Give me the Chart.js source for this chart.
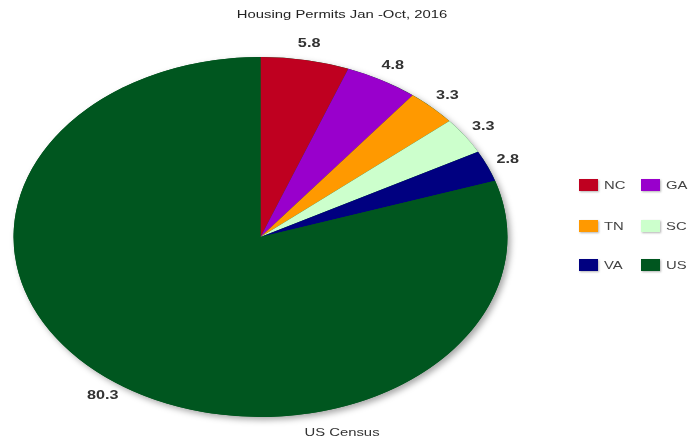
<!DOCTYPE html>
<html>
<head>
<meta charset="utf-8">
<script src="https://cdn.jsdelivr.net/npm/chart.js@4/dist/chart.umd.min.js"></script>
<style>
  body { margin: 0; background: #fff; }
  #wrap { width: 699px; height: 441px; position: relative; }
</style>
</head>
<body>
<div id="wrap"><canvas id="permits_canvas"></canvas></div>
<script>
// housing permits share, Jan - Oct 2016
var states = ["NC", "GA", "TN", "SC", "VA", "US"];
var permits = [5.8, 4.8, 3.3, 3.3, 2.8, 80.3];
var sliceColors = ["#BF0020", "#9900CC", "#FF9900", "#CCFFCC", "#000080", "#00561F"];
var titleText = "Housing Permits Jan -Oct, 2016";
var sourceText = "US Census";

var stretchX = 1.372;   // pie is drawn as an ellipse
var textStretch = 1.35;

function wideText(c, txt, x, y, font, color, align) {
  c.save();
  c.translate(x, y);
  c.scale(textStretch, 1);
  c.font = font;
  c.fillStyle = color;
  c.textAlign = align || "center";
  c.textBaseline = "middle";
  c.fillText(txt, 0, 0);
  c.restore();
}

var ellipsePlugin = {
  id: "ellipse",
  beforeDatasetsDraw: function(chart) {
    var arc = chart.getDatasetMeta(0).data[0];
    var c = chart.ctx;
    c.save();
    c.translate(arc.x, arc.y);
    c.scale(stretchX, 1);
    c.translate(-arc.x, -arc.y);
    // soft shadow under the whole pie
    c.save();
    c.shadowColor = "rgba(0,0,0,0.35)";
    c.shadowBlur = 6;
    c.shadowOffsetX = 3;
    c.shadowOffsetY = 3;
    c.beginPath();
    c.arc(arc.x, arc.y, arc.outerRadius, 0, Math.PI * 2);
    c.fillStyle = sliceColors[sliceColors.length - 1];
    c.fill();
    c.restore();
  },
  afterDatasetsDraw: function(chart) {
    var c = chart.ctx;
    c.restore();
    var meta = chart.getDatasetMeta(0);
    meta.data.forEach(function(el, i) {
      var mid = (el.startAngle + el.endAngle) / 2;
      var r = el.outerRadius * 1.09;
      var x = el.x + stretchX * r * Math.cos(mid);
      var y = el.y + r * Math.sin(mid);
      wideText(c, permits[i].toFixed(1), x, y, "bold 12px 'Liberation Sans', Arial, sans-serif", "#333");
    });

    wideText(c, titleText, 342, 15, "11px 'Liberation Sans', Arial, sans-serif", "#222");
    wideText(c, sourceText, 342, 433, "11px 'Liberation Sans', Arial, sans-serif", "#333");

    // legend, two columns
    var colX = [579, 641], rowY = [185, 226, 265];
    states.forEach(function(s, i) {
      var bx = colX[i % 2], by = rowY[Math.floor(i / 2)];
      c.save();
      c.shadowColor = "rgba(0,0,0,0.3)";
      c.shadowBlur = 2;
      c.shadowOffsetX = 1;
      c.shadowOffsetY = 1;
      c.fillStyle = sliceColors[i];
      c.fillRect(bx, by - 6, 19, 12);
      c.restore();
      wideText(c, s, bx + 25, by + 1, "11px 'Liberation Sans', Arial, sans-serif", "#444", "left");
    });
  }
};

var chart = new Chart(document.getElementById("permits_canvas").getContext("2d"), {
  type: "pie",
  data: {
    labels: states,
    datasets: [{
      data: permits,
      backgroundColor: sliceColors,
      borderWidth: 0
    }]
  },
  options: {
    responsive: true,
    maintainAspectRatio: false,
    animation: false,
    events: [],
    layout: { padding: { left: 80, right: 258, top: 57, bottom: 24 } },
    plugins: {
      legend: { display: false },
      title: { display: false },
      tooltip: { enabled: false }
    }
  },
  plugins: [ellipsePlugin]
});
</script>
</body>
</html>
